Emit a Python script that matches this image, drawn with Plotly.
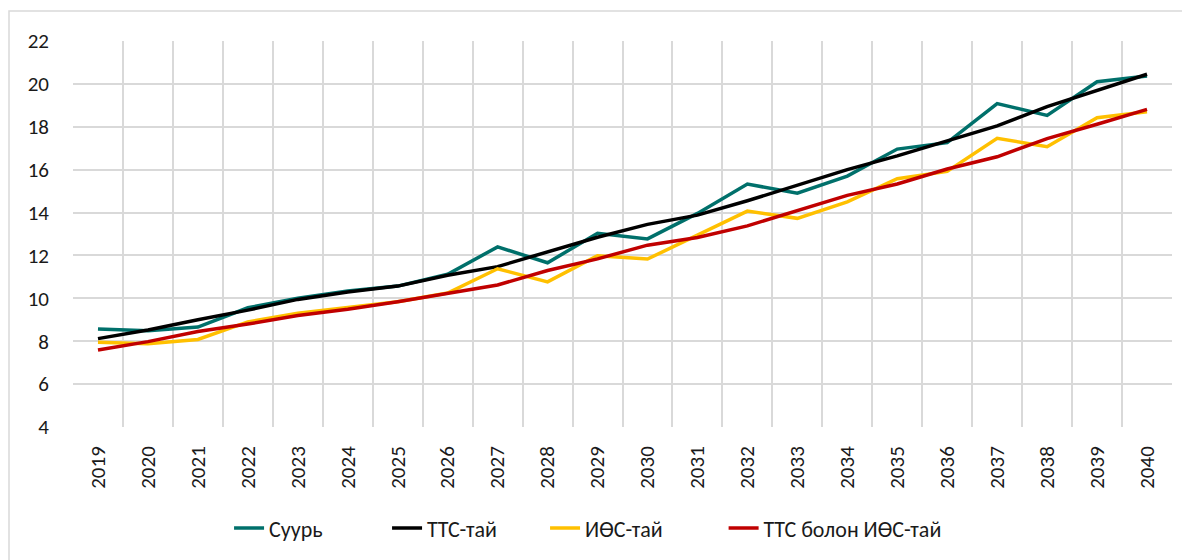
import plotly.graph_objects as go

years = [str(y) for y in range(2019, 2041)]

suur = [8.57, 8.49, 8.66, 9.56, 10.0, 10.34, 10.57, 11.12, 12.4, 11.66, 13.03, 12.77,
        13.96, 15.33, 14.9, 15.7, 16.96, 17.26, 19.08, 18.53, 20.1, 20.37]
tts_tai = [8.12, 8.52, 9.0, 9.45, 9.95, 10.3, 10.57, 11.08, 11.48, 12.15, 12.85, 13.45,
           13.88, 14.55, 15.27, 16.0, 16.64, 17.35, 18.04, 18.94, 19.71, 20.45]
ios_tai = [7.95, 7.88, 8.08, 8.9, 9.3, 9.58, 9.84, 10.25, 11.38, 10.77, 11.99, 11.83,
           12.95, 14.07, 13.73, 14.5, 15.58, 15.92, 17.46, 17.07, 18.42, 18.7]
tts_bolon_ios = [7.59, 7.98, 8.45, 8.8, 9.2, 9.49, 9.84, 10.25, 10.62, 11.3, 11.84, 12.48,
                 12.84, 13.38, 14.1, 14.8, 15.33, 16.03, 16.6, 17.45, 18.12, 18.81]

series = [
    ("Суурь", suur, "#00706B", "legend"),
    ("ТТС-тай", tts_tai, "#000000", "legend"),
    ("ИӨС-тай", ios_tai, "#FFC000", "legend"),
    ("ТТС болон ИӨС-тай", tts_bolon_ios, "#C00000", "legend2"),
]

font_family = "Carlito, Lato, Liberation Sans, sans-serif"

fig = go.Figure()
for name, vals, color, leg in series:
    fig.add_trace(go.Scatter(x=years, y=vals, mode="lines", name=name, legend=leg,
                             line=dict(color=color, width=3.5)))

# the page body adds an 8px offset, so margins are shifted accordingly
legend_style = dict(orientation="h", y=-0.262, yanchor="middle", xanchor="left",
                    font=dict(size=22), itemwidth=30, bgcolor="rgba(0,0,0,0)")
fig.update_layout(
    width=1190, height=560,
    margin=dict(l=65, r=26, t=33, b=141),
    paper_bgcolor="white", plot_bgcolor="white",
    font=dict(family=font_family, size=20, color="#1a1a1a"),
    legend=dict(legend_style, x=0.142, entrywidth=113, entrywidthmode="pixels"),
    legend2=dict(legend_style, x=0.592),
    showlegend=True,
)
fig.update_xaxes(type="category", tickson="boundaries", range=[-0.5, len(years) - 0.5],
                 showgrid=True, gridcolor="#d9d9d9", gridwidth=1.5, tickangle=-90,
                 ticks="", showline=False, tickfont=dict(size=21),
                 ticklabelstandoff=14, automargin=False)
fig.update_yaxes(range=[4, 22], dtick=2, showgrid=True, gridcolor="#d9d9d9",
                 gridwidth=1.5, zeroline=False, showline=False, ticks="",
                 tickfont=dict(size=21), ticklabelstandoff=23, automargin=False)

# outer chart border
fig.add_shape(type="rect", xref="paper", yref="paper",
              x0=(1 - 65) / 1099, x1=(1200 - 65) / 1099,
              y0=(419 - 570) / 386, y1=(419 - 3) / 386,
              line=dict(color="#d9d9d9", width=1.5), layer="below")

fig.write_html("out.html")
